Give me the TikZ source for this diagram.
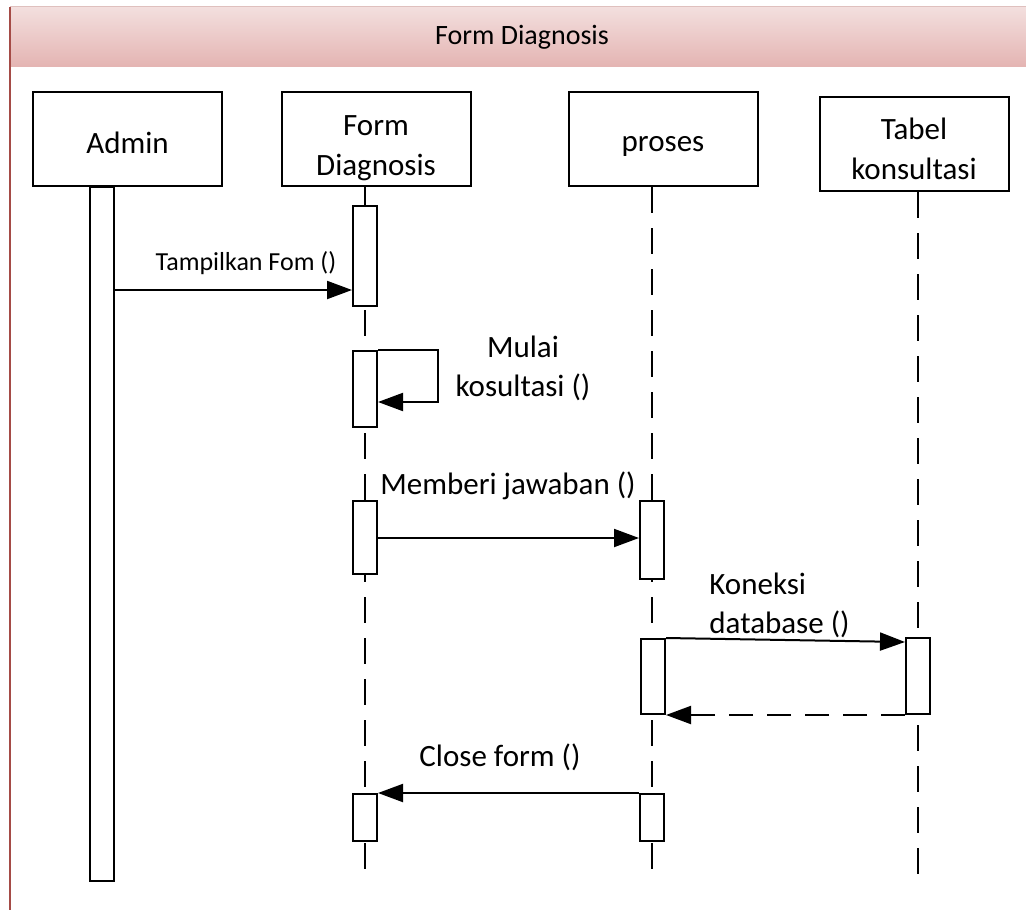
\documentclass[tikz,border=0pt]{standalone}
\usepackage{fontspec}
\setmainfont{Carlito}
\usetikzlibrary{arrows.meta,calc}

\definecolor{framered}{RGB}{165,75,70}
\definecolor{hdtop}{RGB}{243,223,222}
\definecolor{hdbot}{RGB}{228,180,178}

\newcommand{\objstrut}{\rule{0pt}{15pt}}

\tikzset{
  obj/.style={draw, line width=1pt, fill=white, minimum width=94.5pt, minimum height=47pt,
    inner ysep=0.5pt, align=center, font=\fontsize{15.5}{20}\selectfont},
  act/.style={draw, line width=1pt, fill=white, minimum width=12pt, inner sep=0pt, anchor=north},
  life/.style={line width=1pt, dash pattern=on 13pt off 7.5pt},
  msg/.style={line width=1pt, -{Triangle[length=12.5pt,width=9pt]}},
  lbl/.style={font=\fontsize{15.5}{19.5}\selectfont, inner sep=0pt},
}

\begin{document}
\begin{tikzpicture}[x=0.5pt, y=-0.5pt]
  \useasboundingbox (0,0) rectangle (1026,909);

  % header of the frame
  \shade[top color=hdtop, bottom color=hdbot] (10,7) rectangle (1030,67);
  \draw[framered!35, line width=0.5pt] (1030,7) -- (10,7);
  \draw[framered, line width=0.8pt] (10,7) -- (10,915);
  \node[font=\fontsize{14}{17}\selectfont] (title) at (522,37) {Form Diagnosis};

  % objects
  \node[obj] (admin) at (127.5,139) {\objstrut Admin};
  \node[obj] (formdiag) at (376,139) {\rule{0pt}{19pt}Form\\Diagnosis};
  \node[obj] (proses) at (663,139) {\objstrut proses};
  \node[obj] (tabel) at (914,144) {\rule{0pt}{16pt}Tabel\\konsultasi};

  % lifelines
  \coordinate (fdend) at (365,880);
  \coordinate (prend) at (652,880);
  \coordinate (tbend) at (918,885);
  \draw[life] (formdiag.south -| fdend) -- (fdend);
  \draw[life] (proses.south -| prend) -- (prend);
  \draw[life] (tabel.south -| tbend) -- (tbend);

  % activations
  \node[act, minimum height=347pt] (adminact) at (102,186) {};
  \node[act, minimum height=50pt] (fa1) at (365,205) {};
  \node[act, minimum height=38pt] (fa2) at (365,350) {};
  \node[act, minimum height=36.5pt] (fa3) at (365,500) {};
  \node[act, minimum height=23.5pt] (fa4) at (365,793) {};
  \node[act, minimum height=39pt] (pa1) at (652,500) {};
  \node[act, minimum height=37.5pt] (pa2) at (653,638) {};
  \node[act, minimum height=23.5pt] (pa3) at (652,793) {};
  \node[act, minimum height=38pt] (ta1) at (918,637) {};

  % Tampilkan Fom ()
  \coordinate (m1) at ($(fa1.north west)+(0,85)$);
  \draw[msg] (adminact.east |- m1) -- (m1);
  \node[lbl, font=\fontsize{13}{15}\selectfont] (l1) at (246,263) {Tampilkan Fom ()};

  % Mulai kosultasi ()
  \draw[msg] (fa2.north east) -- ++(60,0) |- ($(fa2.north east)+(0,52)$);
  \node[lbl, align=center] (l2) at (523,368) {Mulai\\kosultasi ()};

  % Memberi jawaban ()
  \draw[msg] ($(fa3.north east)+(0,38)$) -- ($(pa1.north west)+(0,38)$);
  \node[lbl] (l3) at (508,486) {Memberi jawaban ()};

  % Koneksi database ()
  \draw[msg] (pa2.north east) -- ($(ta1.north west)+(0,5)$);
  \draw[msg, dash pattern=on 12pt off 7pt] (ta1.south west) -- (pa2.south east);
  \node[lbl, align=left, anchor=west] (l4) at (709,605) {Koneksi\\database ()};

  % Close form ()
  \draw[msg] (pa3.north west) -- (fa4.north east);
  \node[lbl] (l5) at (500,757) {Close form ()};
\end{tikzpicture}
\end{document}
